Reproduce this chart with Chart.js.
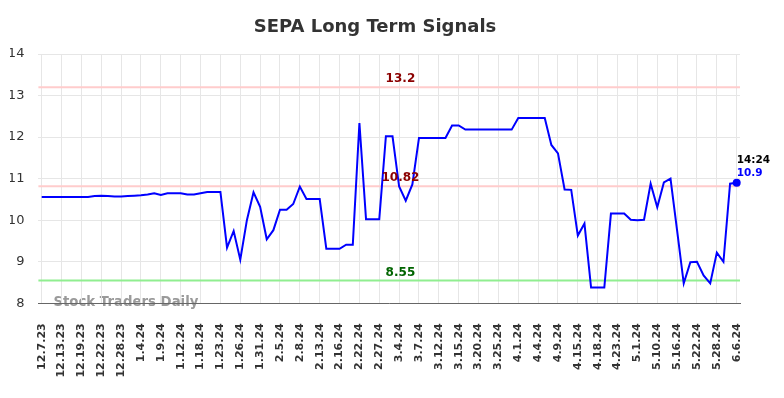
<!DOCTYPE html>
<html>
<head>
<meta charset="utf-8">
<script src="https://cdn.jsdelivr.net/npm/chart.js@4.4.1/dist/chart.umd.min.js"></script>
<style>
  html, body { margin: 0; padding: 0; background: #ffffff; }
  #wrap { width: 784px; height: 398px; position: relative; }
</style>
</head>
<body>
<div id="wrap"><canvas id="c" width="784" height="398"></canvas></div>
<script>
const chartTitle = 'SEPA Long Term Signals';
const watermarkText = 'Stock Traders Daily';

const tickLabels = [
  '12.7.23','12.13.23','12.19.23','12.22.23','12.28.23','1.4.24','1.9.24','1.12.24','1.18.24',
  '1.23.24','1.26.24','1.31.24','2.5.24','2.8.24','2.13.24','2.16.24','2.22.24','2.27.24',
  '3.4.24','3.7.24','3.12.24','3.15.24','3.20.24','3.25.24','4.1.24','4.4.24','4.9.24',
  '4.15.24','4.18.24','4.23.24','5.1.24','5.10.24','5.16.24','5.22.24','5.28.24','6.6.24'
];

const signalValues = [
  10.56,10.56,10.56,10.56,10.56,10.56,10.56,10.56,10.58,10.59,
  10.58,10.57,10.57,10.58,10.59,10.60,10.62,10.65,10.61,10.65,
  10.65,10.65,10.62,10.62,10.65,10.68,10.68,10.68,9.34,9.74,
  9.05,10.00,10.67,10.32,9.54,9.76,10.25,10.25,10.39,10.81,
  10.51,10.51,10.51,9.31,9.31,9.31,9.41,9.41,12.34,10.02,
  10.02,10.02,12.02,12.02,10.81,10.47,10.86,11.98,11.98,11.98,
  11.98,11.98,12.28,12.28,12.18,12.18,12.18,12.18,12.18,12.18,
  12.18,12.18,12.46,12.46,12.46,12.46,12.46,11.81,11.61,10.74,
  10.73,9.63,9.92,8.38,8.38,8.38,10.16,10.16,10.16,10.01,
  10.00,10.01,10.88,10.31,10.91,11.00,9.75,8.48,8.99,9.00,
  8.67,8.48,9.22,9.00,10.88,10.90
];

const yTicks = [8, 9, 10, 11, 12, 13, 14];
const levelHigh = 13.2;
const levelMid = 10.82;
const levelLow = 8.55;
const lastTimeLabel = '14:24';
const lastValueLabel = '10.9';

// Full category list: each tick label followed by two unlabeled sessions
const categories = [];
tickLabels.forEach((t, i) => {
  categories.push(t);
  if (i < tickLabels.length - 1) { categories.push(''); categories.push(''); }
});

const FONT = "'DejaVu Sans', sans-serif";
Chart.defaults.font.family = FONT;

const overlayPlugin = {
  id: 'overlay',
  beforeDraw(chart) {
    const { ctx, chartArea } = chart;
    ctx.save();
    ctx.font = 'bold 13.3px ' + FONT;
    ctx.fillStyle = '#9a9a9a';
    ctx.textAlign = 'left';
    ctx.textBaseline = 'middle';
    ctx.fillText(watermarkText, chartArea.left + 15, chartArea.bottom - 1);
    ctx.restore();
  },
  beforeDatasetsDraw(chart) {
    const { ctx, chartArea, scales } = chart;
    const lines = [
      { v: levelHigh, c: '#ffcccc' },
      { v: levelMid, c: '#ffcccc' },
      { v: levelLow, c: '#90ee90' }
    ];
    ctx.save();
    lines.forEach(l => {
      const y = scales.y.getPixelForValue(l.v);
      ctx.strokeStyle = l.c;
      ctx.lineWidth = 2;
      ctx.beginPath();
      ctx.moveTo(chartArea.left, y);
      ctx.lineTo(chartArea.right, y);
      ctx.stroke();
    });
    ctx.restore();
  },
  afterDatasetsDraw(chart) {
    const { ctx, chartArea, scales } = chart;
    const cx = chartArea.left + 0.516 * (chartArea.right - chartArea.left);
    const labels = [
      { v: levelHigh, t: String(levelHigh), c: '#8b0000' },
      { v: levelMid, t: String(levelMid), c: '#8b0000' },
      { v: levelLow, t: String(levelLow), c: '#006400' }
    ];
    ctx.save();
    ctx.font = 'bold 12px ' + FONT;
    ctx.textAlign = 'center';
    ctx.textBaseline = 'middle';
    labels.forEach(l => {
      const y = scales.y.getPixelForValue(l.v);
      ctx.fillStyle = l.c;
      ctx.fillText(l.t, cx, y - 8);
    });
    const meta = chart.getDatasetMeta(0);
    const last = meta.data[meta.data.length - 1];
    ctx.font = 'bold 10.5px ' + FONT;
    ctx.textAlign = 'left';
    ctx.fillStyle = '#000000';
    ctx.fillText(lastTimeLabel, last.x, last.y - 23);
    ctx.fillStyle = '#0000ff';
    ctx.fillText(lastValueLabel, last.x, last.y - 10);
    ctx.restore();
  }
};

const lastIdx = signalValues.length - 1;

new Chart(document.getElementById('c'), {
  type: 'line',
  data: {
    labels: categories,
    datasets: [{
      data: signalValues,
      borderColor: '#0000ff',
      backgroundColor: '#0000ff',
      borderWidth: 2,
      tension: 0,
      fill: false,
      pointRadius: ctx => ctx.dataIndex === lastIdx ? 4 : 0,
      pointHoverRadius: 0,
      pointBackgroundColor: '#0000ff',
      pointBorderWidth: 0
    }]
  },
  options: {
    responsive: false,
    animation: false,
    events: [],
    layout: { padding: { left: 10, right: 44, top: 0, bottom: 0 } },
    plugins: {
      legend: { display: false },
      tooltip: { enabled: false },
      title: {
        display: true,
        text: chartTitle,
        color: '#333333',
        font: { size: 18, weight: 'bold', family: FONT },
        padding: { top: 16.5, bottom: 15.9 }
      }
    },
    scales: {
      x: {
        type: 'category',
        offset: true,
        grid: {
          color: ctx => (ctx.index % 3 === 0 ? '#e6e6e6' : 'rgba(0,0,0,0)'),
          lineWidth: 1,
          drawTicks: false
        },
        border: { display: true, color: '#666666', width: 1 },
        ticks: {
          autoSkip: false,
          minRotation: 90,
          maxRotation: 90,
          padding: 20,
          color: '#333333',
          font: { size: 11, weight: 'bold', family: FONT },
          callback: (v, i) => categories[i]
        },
        afterFit: s => { s.height = 94.7; s.paddingLeft = 0; s.paddingRight = 0; s.paddingTop = 0; s.paddingBottom = 0; }
      },
      y: {
        min: yTicks[0],
        max: yTicks[yTicks.length - 1],
        afterBuildTicks: s => { s.ticks = yTicks.map(v => ({ value: v })); },
        grid: { color: '#e6e6e6', lineWidth: 1, drawTicks: false },
        border: { display: false },
        ticks: {
          padding: 14,
          color: '#333333',
          font: { size: 13, family: FONT }
        },
        afterFit: s => { s.width = 28.4; s.paddingLeft = 0; s.paddingRight = 0; s.paddingTop = 0; s.paddingBottom = 0; }
      }
    }
  },
  plugins: [overlayPlugin]
});
</script>
</body>
</html>
